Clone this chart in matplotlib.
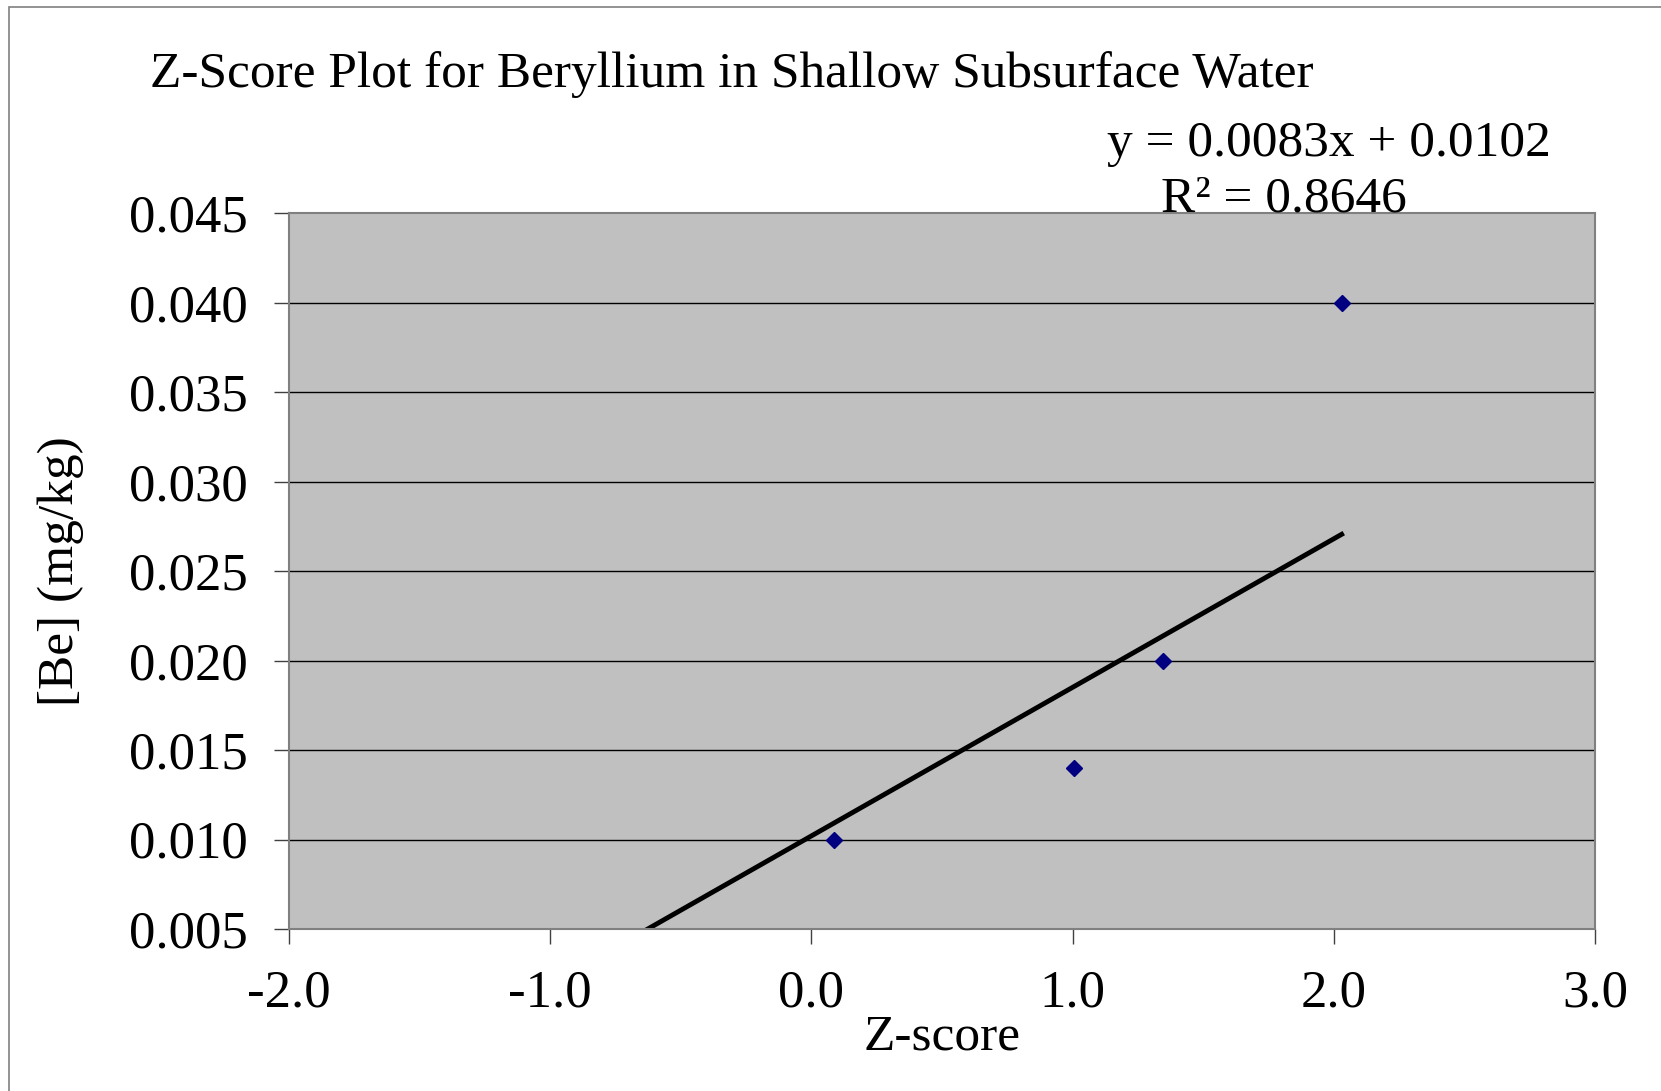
import numpy as np
import matplotlib.pyplot as plt
from matplotlib.patches import Rectangle

# data
z_score = [0.085, 1.005, 1.345, 2.03]
be_conc = [0.010, 0.014, 0.020, 0.040]

# trendline from the printed equation
slope = 0.0083
intercept = 0.0102
r_squared = 0.8646
trend_x = [-2.0, 2.03]

x_ticks = [-2.0, -1.0, 0.0, 1.0, 2.0, 3.0]
y_ticks = [0.005, 0.010, 0.015, 0.020, 0.025, 0.030, 0.035, 0.040, 0.045]

plt.rcParams["font.family"] = ["Liberation Serif", "DejaVu Serif"]

W, H = 1661, 1091
fig = plt.figure(figsize=(W / 100, H / 100), dpi=100)

# outer chart border
fig.patches.append(Rectangle((9 / W, -0.05), 1.1, 1 - 7 / H + 0.05,
                             transform=fig.transFigure, fill=False,
                             ec="#808080", lw=1.2))

ax = fig.add_axes([289 / W, 1 - 929 / H, (1595 - 289) / W, (929 - 213) / H])
ax.set_facecolor("#C0C0C0")
ax.set_xlim(-2.0, 3.0)
ax.set_ylim(0.005, 0.045)
ax.set_xticks(x_ticks)
ax.set_yticks(y_ticks)
ax.set_xticklabels([f"{v:.1f}" for v in x_ticks])
ax.set_yticklabels([f"{v:.3f}" for v in y_ticks])

for v in y_ticks[1:-1]:
    ax.axhline(v, color="black", lw=1.0, zorder=1)

for s in ax.spines.values():
    s.set_color("#808080")
    s.set_linewidth(1.5)

ax.tick_params(axis="both", direction="out", length=11, width=1,
               color="#404040", labelsize=38)
ax.tick_params(axis="x", pad=18)
ax.tick_params(axis="y", pad=19)

tx = np.array(trend_x)
ax.plot(tx, slope * tx + intercept, color="black", lw=3.5, zorder=2)

ax.plot(z_score, be_conc, linestyle="none", marker="D", markersize=8,
        color="#000080", zorder=3)

ax.set_xlabel("Z-score", fontsize=37, labelpad=-2)
ax.set_ylabel("[Be] (mg/kg)", fontsize=37, labelpad=32)

fig.text(150 / W, 1 - 87 / H, "Z-Score Plot for Beryllium in Shallow Subsurface Water",
         fontsize=37, ha="left", va="baseline")
fig.text(1329 / W, 1 - 156 / H, f"y = {slope}x + {intercept}",
         fontsize=37, ha="center", va="baseline")
fig.text(1284 / W, 1 - 212 / H, f"R² = {r_squared}",
         fontsize=37, ha="center", va="baseline")

fig.savefig("out.png", dpi=100)
